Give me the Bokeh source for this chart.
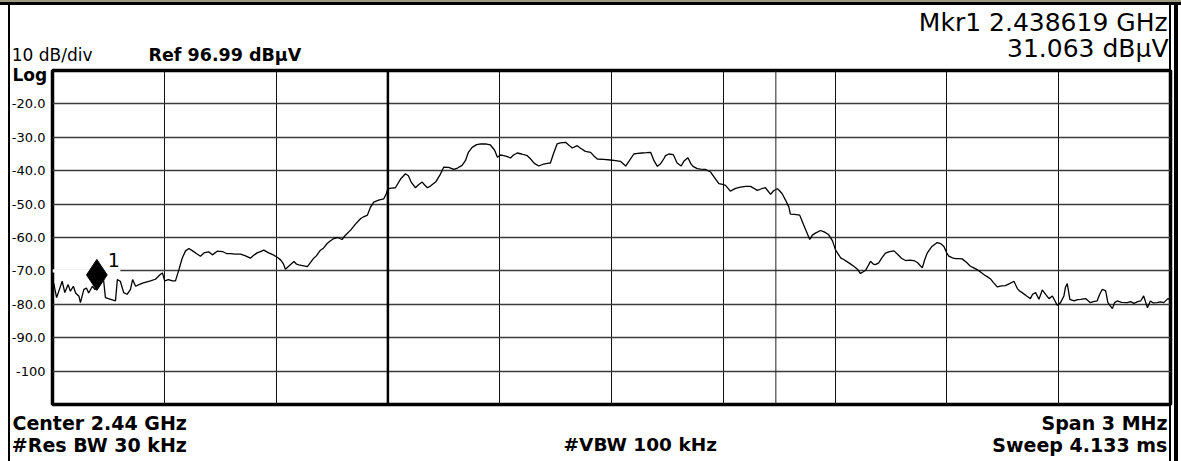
from bokeh.plotting import figure
from bokeh.models import (Range1d, FixedTicker, Grid, Span, Label, Title, Column)
from bokeh.embed import file_html
from bokeh.resources import INLINE

# ---- data ----
freq_mhz = [
    2438.503, 2438.511, 2438.526, 2438.533, 2438.542, 2438.548, 2438.556, 2438.562,
    2438.571, 2438.575, 2438.584, 2438.591, 2438.597, 2438.607, 2438.614, 2438.621,
    2438.629, 2438.636, 2438.642, 2438.656, 2438.669, 2438.674, 2438.682, 2438.691,
    2438.700, 2438.709, 2438.715, 2438.723, 2438.732, 2438.744, 2438.763, 2438.776,
    2438.790, 2438.795, 2438.801, 2438.811, 2438.822, 2438.830, 2438.839, 2438.848,
    2438.857, 2438.866, 2438.876, 2438.886, 2438.897, 2438.908, 2438.919, 2438.929,
    2438.942, 2438.956, 2438.967, 2438.978, 2438.991, 2439.005, 2439.018, 2439.031,
    2439.039, 2439.049, 2439.058, 2439.067, 2439.080, 2439.094, 2439.104, 2439.112,
    2439.120, 2439.125, 2439.136, 2439.148, 2439.155, 2439.161, 2439.171, 2439.184,
    2439.192, 2439.201, 2439.208, 2439.219, 2439.227, 2439.237, 2439.246, 2439.255,
    2439.265, 2439.277, 2439.286, 2439.300, 2439.313, 2439.327, 2439.335, 2439.345,
    2439.353, 2439.362, 2439.375, 2439.389, 2439.396, 2439.400, 2439.410, 2439.420,
    2439.434, 2439.447, 2439.455, 2439.463, 2439.474, 2439.482, 2439.492, 2439.498,
    2439.506, 2439.514, 2439.528, 2439.541, 2439.550, 2439.563, 2439.577, 2439.587,
    2439.599, 2439.608, 2439.616, 2439.626, 2439.638, 2439.649, 2439.662, 2439.675,
    2439.686, 2439.694, 2439.702, 2439.711, 2439.721, 2439.729, 2439.737, 2439.747,
    2439.759, 2439.774, 2439.783, 2439.793, 2439.805, 2439.818, 2439.828, 2439.836,
    2439.844, 2439.854, 2439.863, 2439.877, 2439.885, 2439.895, 2439.908, 2439.917,
    2439.930, 2439.944, 2439.952, 2439.962, 2439.979, 2439.997, 2440.011, 2440.024,
    2440.038, 2440.048, 2440.060, 2440.070, 2440.082, 2440.094, 2440.105, 2440.114,
    2440.123, 2440.131, 2440.140, 2440.145, 2440.154, 2440.166, 2440.176, 2440.187,
    2440.194, 2440.205, 2440.214, 2440.220, 2440.230, 2440.239, 2440.252, 2440.266,
    2440.276, 2440.288, 2440.295, 2440.306, 2440.319, 2440.333, 2440.346, 2440.360,
    2440.373, 2440.381, 2440.391, 2440.403, 2440.413, 2440.427, 2440.435, 2440.445,
    2440.451, 2440.458, 2440.467, 2440.476, 2440.480, 2440.491, 2440.505, 2440.513,
    2440.521, 2440.532, 2440.539, 2440.547, 2440.561, 2440.572, 2440.583, 2440.593,
    2440.601, 2440.615, 2440.623, 2440.633, 2440.641, 2440.650, 2440.660, 2440.668,
    2440.682, 2440.690, 2440.695, 2440.703, 2440.708, 2440.717, 2440.725, 2440.735,
    2440.746, 2440.758, 2440.771, 2440.778, 2440.789, 2440.800, 2440.811, 2440.821,
    2440.834, 2440.840, 2440.847, 2440.859, 2440.874, 2440.883, 2440.892, 2440.899,
    2440.905, 2440.915, 2440.923, 2440.931, 2440.941, 2440.953, 2440.963, 2440.971,
    2440.981, 2440.990, 2440.999, 2441.009, 2441.017, 2441.025, 2441.035, 2441.047,
    2441.057, 2441.068, 2441.080, 2441.089, 2441.095, 2441.102, 2441.114, 2441.124,
    2441.130, 2441.138, 2441.147, 2441.156, 2441.165, 2441.174, 2441.183, 2441.189,
    2441.196, 2441.205, 2441.214, 2441.218, 2441.223, 2441.230, 2441.241, 2441.251,
    2441.259, 2441.272, 2441.285, 2441.293, 2441.303, 2441.310, 2441.317, 2441.326,
    2441.332, 2441.344, 2441.350, 2441.357, 2441.369, 2441.384, 2441.393, 2441.402,
    2441.412, 2441.420, 2441.428, 2441.438, 2441.446, 2441.454, 2441.464, 2441.473,
    2441.482, 2441.493, 2441.497,
]
level_db = [
    -73.6, -78.0, -73.1, -76.5, -74.1, -76.1, -74.6, -76.6,
    -77.6, -79.5, -75.6, -75.1, -76.6, -74.6, -75.6, -74.5,
    -73.0, -71.6, -78.0, -78.5, -79.0, -72.6, -73.1, -76.5,
    -77.0, -75.6, -72.6, -74.6, -74.1, -73.6, -73.0, -72.5,
    -71.0, -70.6, -73.0, -72.6, -73.0, -73.0, -69.7, -66.2,
    -64.0, -63.3, -64.0, -64.8, -65.6, -64.5, -64.3, -65.2,
    -64.1, -64.2, -64.8, -64.8, -65.0, -65.0, -65.5, -66.2,
    -65.4, -64.6, -64.2, -63.8, -64.6, -65.3, -66.0, -66.7,
    -68.0, -69.5, -68.4, -67.2, -68.0, -68.2, -68.4, -68.7,
    -67.5, -66.2, -65.5, -63.8, -63.2, -61.8, -61.0, -60.3,
    -60.0, -60.6, -59.3, -57.8, -56.0, -54.3, -53.8, -53.3,
    -51.0, -49.4, -48.8, -48.4, -46.8, -45.4, -45.2, -45.1,
    -42.5, -40.9, -41.5, -43.5, -45.1, -44.2, -43.4, -44.2,
    -45.1, -44.6, -43.4, -41.0, -38.9, -39.0, -39.6, -39.2,
    -38.4, -37.0, -34.5, -33.0, -32.2, -32.0, -32.0, -32.3,
    -33.8, -36.0, -35.3, -35.5, -35.8, -36.2, -35.3, -34.7,
    -35.0, -35.5, -36.5, -37.8, -38.6, -38.0, -37.8, -37.7,
    -35.0, -32.0, -31.7, -31.5, -32.3, -33.2, -32.5, -33.3,
    -34.2, -34.5, -35.5, -36.5, -36.6, -36.8, -37.0, -37.2,
    -38.6, -37.0, -35.0, -34.8, -34.7, -34.6, -34.5, -37.0,
    -38.7, -38.0, -36.5, -35.5, -35.0, -35.2, -37.7, -38.6,
    -37.2, -36.1, -38.1, -38.8, -39.4, -39.5, -39.6, -40.4,
    -42.0, -43.9, -44.0, -44.4, -46.1, -45.3, -44.9, -44.7,
    -44.7, -45.2, -45.9, -45.4, -45.1, -47.1, -46.0, -45.4,
    -46.0, -46.9, -48.8, -50.9, -53.0, -53.1, -53.3, -55.5,
    -57.7, -60.6, -59.3, -58.7, -57.9, -58.4, -59.2, -61.0,
    -63.7, -66.1, -66.6, -67.3, -67.9, -68.6, -69.5, -70.8,
    -69.8, -68.2, -67.1, -68.0, -68.1, -67.6, -66.2, -64.7,
    -64.2, -64.0, -65.4, -66.2, -66.9, -66.8, -66.9, -67.5,
    -69.1, -66.8, -64.7, -62.8, -61.5, -61.8, -62.7, -64.5,
    -65.6, -66.1, -66.3, -66.3, -66.4, -67.5, -68.6, -69.0,
    -69.6, -70.3, -71.1, -71.8, -72.4, -73.5, -74.8, -74.5,
    -74.4, -73.8, -73.1, -75.3, -76.0, -76.5, -77.5, -78.3,
    -77.0, -76.5, -78.5, -75.7, -77.0, -78.3, -77.5, -78.8,
    -80.3, -79.5, -77.5, -75.0, -73.8, -78.5, -79.0, -78.6,
    -78.5, -78.3, -79.5, -79.2, -79.0, -77.0, -75.5, -76.0,
    -79.5, -81.3, -79.5, -79.0, -79.4, -79.5, -79.2, -79.7,
    -79.2, -79.0, -77.5, -81.0, -79.0, -79.6, -79.5, -79.3,
    -79.5, -78.3, -78.5,
]
y_ticks = [-20, -30, -40, -50, -60, -70, -80, -90, -100]
y_tick_labels = ["-20.0", "-30.0", "-40.0", "-50.0", "-60.0", "-70.0", "-80.0", "-90.0", "-100"]
x_div_ticks = [2438.8, 2439.1, 2439.4, 2439.7, 2440.0, 2440.3, 2440.6, 2440.9, 2441.2]
f_start, f_stop = 2438.5, 2441.5
y_bottom, y_top = -110, -10
marker_freq = 2438.619
marker_level = -71.2
center_line = 2439.4
extra_line = 2440.441
label_gap_end = 2438.682

FONT = "DejaVu Sans"
W = 1181
FRAME_L, FRAME_R = 52, 1170          # page pixels of the trace frame
TOP_H, MAIN_H, BOT_H = 65, 345, 51   # heights of the three stacked panels


def style_axis(ax, ticks, labels, standoff, size, bold=False):
    ax.ticker = FixedTicker(ticks=ticks)
    ax.major_label_overrides = {t: l for t, l in zip(ticks, labels)}
    ax.axis_line_color = None
    ax.major_tick_line_color = None
    ax.minor_tick_line_color = None
    ax.major_tick_out = 0
    ax.major_tick_in = 0
    ax.major_label_standoff = standoff
    ax.major_label_text_font = FONT
    ax.major_label_text_font_size = size
    ax.major_label_text_font_style = "bold" if bold else "normal"
    ax.major_label_text_color = "black"


def strip(top_px, h):
    f = figure(width=W, height=h, output_backend="svg", toolbar_location=None, title=None,
               x_range=Range1d(FRAME_L, FRAME_R), y_range=Range1d(top_px + h, top_px),
               x_axis_location=None, y_axis_location="left",
               min_border_left=FRAME_L, min_border_right=W - FRAME_R,
               min_border_top=0, min_border_bottom=0)
    f.outline_line_color = None
    f.background_fill_color = None
    f.border_fill_color = None
    f.grid.visible = False
    return f


def txt(f, x, y, s, size, bold=False, align="left"):
    f.add_layout(Label(x=x, y=y, text=s, text_font=FONT, text_font_size=size,
                       text_align=align, text_baseline="middle",
                       text_font_style="bold" if bold else "normal", text_color="black"))


# ---- top strip (header texts) ----
top = strip(0, TOP_H)
style_axis(top.yaxis[0], [54], ["10 dB/div"], -40, "17px")
txt(top, 1175, 21.5, "Mkr1  2.438619 GHz", "25px", align="right")
txt(top, 1168, 47.5, "31.063 dBµV", "25px", align="right")
txt(top, 148, 54, "Ref 96.99 dBµV", "17.5px", bold=True)

# ---- main trace figure ----
p = figure(width=W, height=MAIN_H, output_backend="svg", toolbar_location=None,
           title=None, x_range=Range1d(f_start, f_stop), y_range=Range1d(y_bottom, y_top),
           x_axis_location=None, y_axis_location="left",
           min_border_left=FRAME_L, min_border_right=W - FRAME_R,
           min_border_top=5, min_border_bottom=6)
p.background_fill_color = "white"
p.border_fill_color = None
p.outline_line_color = "black"
p.outline_line_width = 3.5

style_axis(p.yaxis[0], y_ticks, y_tick_labels, 7, "13px")

p.add_layout(Title(text="Log", align="left", offset=-40, vertical_align="bottom",
                   standoff=-28, text_font=FONT, text_font_size="17px",
                   text_font_style="bold", text_color="black"), "above")

for g in p.center:
    if isinstance(g, Grid):
        if g.dimension == 0:
            g.ticker = FixedTicker(ticks=x_div_ticks)
            g.grid_line_color = "#111111"
            g.grid_line_width = 1
        else:
            g.ticker = FixedTicker(ticks=y_ticks)
            g.grid_line_color = "#3a3a3a"
            g.grid_line_width = 1.3

p.add_layout(Span(location=center_line, dimension="height", line_color="black", line_width=2.5))
p.add_layout(Span(location=extra_line, dimension="height", line_color="#222222", line_width=1))

# gap of the -70 line next to the marker label
p.quad(left=[f_start], right=[label_gap_end], bottom=[-70.5], top=[-69.5],
       fill_color="white", line_color=None)

p.line(freq_mhz, level_db, line_color="black", line_width=1.3)
p.scatter([marker_freq], [marker_level], marker="diamond", size=31, color="black")
p.add_layout(Label(x=marker_freq, y=marker_level, x_offset=11, y_offset=15, text="1",
                   text_font=FONT, text_font_size="19px", text_baseline="middle",
                   text_color="black"))

# ---- bottom strip (footer texts) ----
bot_top = TOP_H + MAIN_H
bot = strip(bot_top, BOT_H)
style_axis(bot.yaxis[0], [422, 444], ["Center  2.44 GHz", "#Res BW  30 kHz"], -141, "19px",
           bold=True)
txt(bot, 643, 444, "#VBW  100 kHz", "18.5px", bold=True, align="center")
txt(bot, 1167, 422, "Span 3 MHz", "19px", bold=True, align="right")
txt(bot, 1173.5, 444, "Sweep  4.133 ms", "19px", bold=True, align="right")

frame_styles = {
    "background-color": "white",
    "background-image": (
        "linear-gradient(to bottom, #9c9c84 0px, #9c9c84 2px, #000000 2px, #000000 5px, "
        "transparent 5px), "
        "linear-gradient(to right, transparent 8px, #000000 8px, #000000 10.5px, "
        "transparent 10.5px, transparent 1169px, #000000 1169px, #000000 1170.5px, "
        "transparent 1170.5px, transparent 1174px, #000000 1174px, #000000 1178px, "
        "transparent 1178px)"
    ),
}

layout = Column(children=[top, p, bot], spacing=0, styles=frame_styles)

open("out.html", "w").write(file_html(layout, INLINE))
